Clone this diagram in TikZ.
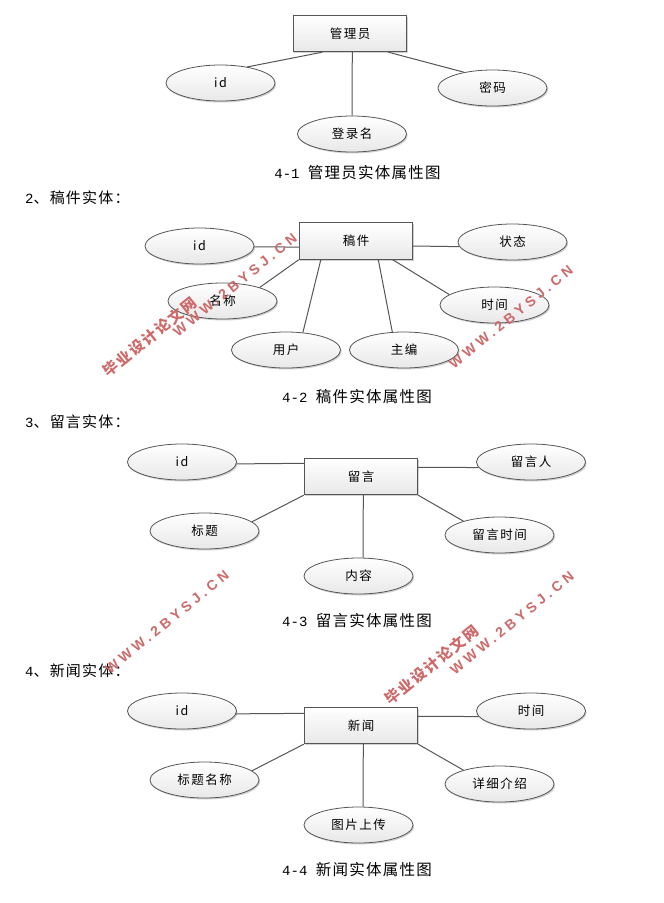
\documentclass[tikz,border=0pt]{standalone}
\usepackage{fontspec}
\setmainfont{Noto Sans CJK SC}
\newfontfamily\markfont[LetterSpace=28]{Liberation Sans}
\newfontfamily\markcjk[LetterSpace=12]{Noto Sans CJK SC}
\newfontfamily\labelfont[LetterSpace=12]{Noto Sans CJK SC}
\newfontfamily\capfont[LetterSpace=8]{Noto Sans CJK SC}
\newfontfamily\capmono{Liberation Mono}
\usetikzlibrary{shapes.geometric,shadows}
\definecolor{linegray}{RGB}{85,85,85}
\definecolor{markred}{RGB}{205,105,105}
\tikzset{
	entity/.style = {
		rectangle, draw=linegray, line width=0.9pt, inner sep=0pt,
		minimum width=113.5pt, minimum height=36.5pt,
		top color=white, bottom color=black!9,
		drop shadow={shadow xshift=1.2pt, shadow yshift=-1.5pt, fill=black, opacity=0.18},
		font=\labelfont\fontsize{12.5pt}{14pt}\selectfont
	},
	attr/.style = {
		ellipse, draw=linegray, line width=0.8pt, inner sep=0pt,
		minimum width=109pt, minimum height=36pt,
		top color=white, bottom color=black!9,
		drop shadow={shadow xshift=1.2pt, shadow yshift=-1.5pt, fill=black, opacity=0.18},
		font=\labelfont\fontsize{12.5pt}{14pt}\selectfont
	},
	link/.style = {draw=linegray, line width=1pt},
	caption/.style = {font=\capfont\fontsize{15.5pt}{18pt}\selectfont, inner sep=0pt},
	heading/.style = {anchor=west, font=\capfont\fontsize{15pt}{17pt}\selectfont, inner sep=0pt},
	wwwmark/.style = {text=markred, rotate=39, inner sep=0pt,
		font=\markfont\bfseries\fontsize{14pt}{16pt}\selectfont},
	cjkmark/.style = {text=markred, rotate=39, inner sep=0pt,
		font=\markcjk\bfseries\fontsize{15pt}{17pt}\selectfont}
}
\newcommand{\capnum}[1]{{\capmono\fontsize{14pt}{17pt}\selectfont #1}}
\begin{document}
\begin{tikzpicture}[x=1pt, y=-1pt]
	\useasboundingbox (0,0) rectangle (664,903);

	% admin
	\node (admin) [entity] at (350,33.5) {管理员};
	\node (adminId) [attr] at (220.5,83) {id};
	\node (adminPwd) [attr] at (492.5,88) {密码};
	\node (adminName) [attr] at (352,134) {登录名};
	\path [link]
	(admin.-146.5) edge (adminId.31)
	(admin.-26) edge (adminPwd.151.5)
	(admin.-83.8) edge (adminName.90);
	\node (cap1) [caption] at (357.5,173) {\capnum{4-1 }管理员实体属性图};
	\node (head2) [heading] at (25,198) {\capnum{2}、稿件实体：};

	% article
	\node (paper) [entity] at (356,241) {稿件};
	\node (paperId) [attr] at (199.5,246) {id};
	\node (paperState) [attr] at (512.5,242) {状态};
	\node (paperName) [attr] at (222.5,301) {名称};
	\node (paperUser) [attr] at (286,350) {用户};
	\node (paperEditor) [attr] at (404,350) {主编};
	\node (paperTime) [attr] at (494.5,305) {时间};
	\path [link]
	(paper.-174) edge (paperId.-1)
	(paper.-5) edge (paperState.-175.8)
	(paper.south west) edge (paperName.20.5)
	(paper.-152) edge (paperUser.46.7)
	(paper.-40.6) edge (paperEditor.123)
	(paper.-27.9) edge (paperTime.167.3);
	\node (cap2) [caption] at (357,397) {\capnum{4-2 }稿件实体属性图};
	\node (head3) [heading] at (25,422) {\capnum{3}、留言实体：};

	% message
	\node (msg) [entity] at (361,476.5) {留言};
	\node (msgId) [attr] at (182,462) {id};
	\node (msgUser) [attr] at (531,462) {留言人};
	\node (msgTitle) [attr] at (204.5,531) {标题};
	\node (msgText) [attr] at (358.5,576) {内容};
	\node (msgTime) [attr] at (499.5,535) {留言时间};
	\path [link]
	(msg.167.6) edge (msgId.-2)
	(msg.9.5) edge (msgUser.-174.8)
	(msg.south west) edge (msgTitle.11.9)
	(msg.-83.8) edge (msgText.76)
	(msg.south east) edge (msgTime.159.2);
	\node (cap3) [caption] at (357,621) {\capnum{4-3 }留言实体属性图};
	\node (head4) [heading] at (25,671) {\capnum{4}、新闻实体：};

	% news
	\node (news) [entity] at (361,725.5) {新闻};
	\node (newsId) [attr] at (182,711) {id};
	\node (newsTime) [attr] at (531,711) {时间};
	\node (newsTitle) [attr] at (204.5,780) {标题名称};
	\node (newsPic) [attr] at (358.5,825) {图片上传};
	\node (newsText) [attr] at (499.5,784) {详细介绍};
	\path [link]
	(news.168.6) edge (newsId.-3)
	(news.9.5) edge (newsTime.-174.8)
	(news.south west) edge (newsTitle.11.9)
	(news.-83.8) edge (newsPic.76)
	(news.south east) edge (newsText.159.2);
	\node (cap4) [caption] at (357,870) {\capnum{4-4 }新闻实体属性图};

	% marks
	\node (www1) [wwwmark] at (235,285) {WWW.2BYSJ.CN};
	\node (www2) [wwwmark] at (511,317) {WWW.2BYSJ.CN};
	\node (www3) [wwwmark] at (167,622) {WWW.2BYSJ.CN};
	\node (www4) [wwwmark] at (512,623) {WWW.2BYSJ.CN};
	\node (site1) [cjkmark] at (150,337) {毕业设计论文网};
	\node (site2) [cjkmark] at (432,665) {毕业设计论文网};
\end{tikzpicture}
\end{document}
